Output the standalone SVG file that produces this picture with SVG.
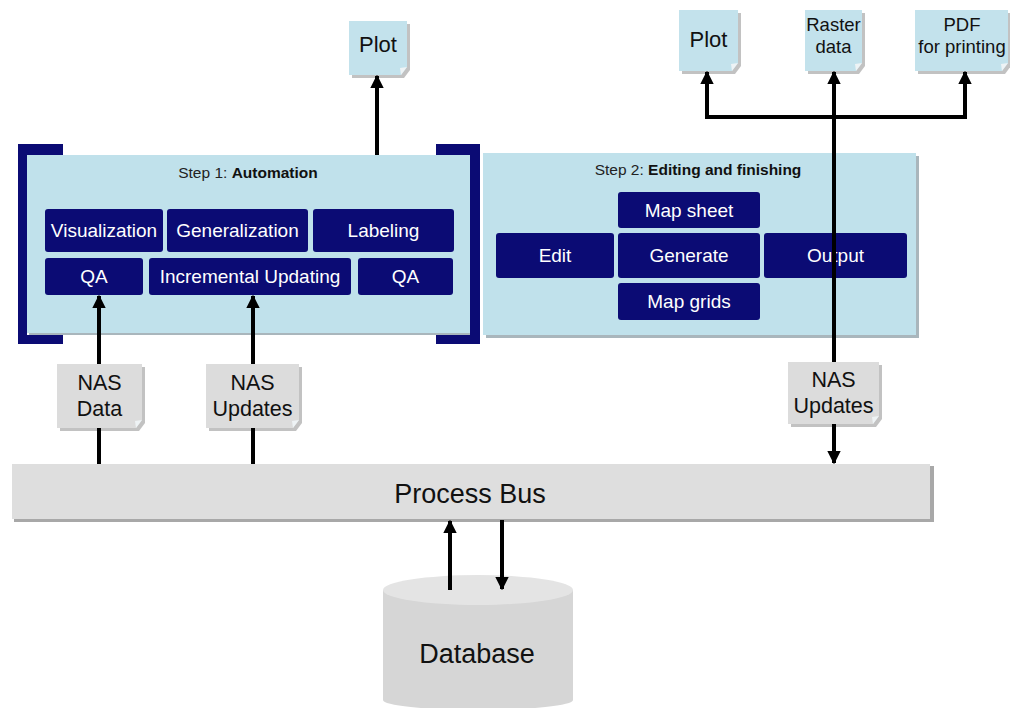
<svg xmlns="http://www.w3.org/2000/svg" width="1010" height="708" viewBox="0 0 1010 708">
  <defs>
    <style>
      .txt { font-family: "Liberation Sans", Arial, sans-serif; }
      .step { fill: #c0e1eb; }
      .stepshadow { fill: #a9b6bc; }
      .navy { fill: #0b0b74; }
      .navytxt { fill: #ffffff; font-size: 19px; text-anchor: middle; }
      .bracket { fill: #0b0b74; }
      .noteblue { fill: #c3e2ec; }
      .notegray { fill: #dcdcdc; }
      .noteshadow { fill: #9a9a9a; opacity: 0.6; }
      .fold { fill: #eef3f5; }
      .notetxt { fill: #111111; text-anchor: middle; }
      .conn { stroke: #000000; stroke-width: 4; fill: none; }
    </style>
    <marker id="arrow" viewBox="0 0 10 10" refX="9" refY="5" markerWidth="3.4" markerHeight="3.6" orient="auto" markerUnits="strokeWidth">
      <path d="M0,0 L10,5 L0,10 Z" fill="#000000"/>
    </marker>
  </defs>

  <rect width="1010" height="708" fill="#ffffff"/>

  <!-- Step 1: automation panel with brackets -->
  <g id="step1">
    <rect x="29" y="157" width="443" height="178" class="stepshadow"/>
    <rect x="27" y="155" width="443" height="178" class="step"/>
    <path class="bracket" d="M18,144 H63 V155 H27 V335 H63 V344 H18 Z"/>
    <path class="bracket" d="M480,144 H436 V155 H470 V335 H436 V344 H480 Z"/>
    <text class="txt" x="248" y="178" font-size="15.5" text-anchor="middle" fill="#222">Step 1: <tspan font-weight="bold" fill="#111">Automation</tspan></text>
  </g>

  <g id="visualization">
    <rect class="navy" x="45" y="209" width="118" height="43" rx="3"/>
    <text class="txt navytxt" x="104" y="237">Visualization</text>
  </g>
  <g id="generalization">
    <rect class="navy" x="167" y="209" width="141" height="43" rx="3"/>
    <text class="txt navytxt" x="237.5" y="237">Generalization</text>
  </g>
  <g id="labeling">
    <rect class="navy" x="313" y="209" width="141" height="43" rx="3"/>
    <text class="txt navytxt" x="383.5" y="237">Labeling</text>
  </g>
  <g id="qa1">
    <rect class="navy" x="45" y="258" width="98" height="37" rx="3"/>
    <text class="txt navytxt" x="94" y="283">QA</text>
  </g>
  <g id="incremental-updating">
    <rect class="navy" x="149" y="258" width="202" height="37" rx="3"/>
    <text class="txt navytxt" x="250" y="283">Incremental Updating</text>
  </g>
  <g id="qa2">
    <rect class="navy" x="358" y="258" width="95" height="37" rx="3"/>
    <text class="txt navytxt" x="405.5" y="283">QA</text>
  </g>

  <!-- Step 2: editing and finishing panel -->
  <g id="step2">
    <rect x="486" y="156" width="433" height="182" class="stepshadow"/>
    <rect x="483" y="153" width="433" height="182" class="step"/>
    <text class="txt" x="698" y="175" font-size="15.5" text-anchor="middle" fill="#222">Step 2: <tspan font-weight="bold" fill="#111">Editing and finishing</tspan></text>
  </g>

  <g id="map-sheet">
    <rect class="navy" x="618" y="192" width="142" height="36" rx="3"/>
    <text class="txt navytxt" x="689" y="217">Map sheet</text>
  </g>
  <g id="edit">
    <rect class="navy" x="496" y="233" width="118" height="45" rx="3"/>
    <text class="txt navytxt" x="555" y="262">Edit</text>
  </g>
  <g id="generate">
    <rect class="navy" x="618" y="233" width="142" height="45" rx="3"/>
    <text class="txt navytxt" x="689" y="262">Generate</text>
  </g>
  <g id="output">
    <rect class="navy" x="764" y="233" width="143" height="45" rx="3"/>
    <text class="txt navytxt" x="835.5" y="262">Output</text>
  </g>
  <g id="map-grids">
    <rect class="navy" x="618" y="283" width="142" height="37" rx="3"/>
    <text class="txt navytxt" x="689" y="308">Map grids</text>
  </g>

  <!-- Output documents -->
  <g id="plot-left">
    <path class="noteshadow" d="M352,24 H410 V70 L404,78 H352 Z"/>
    <path class="noteblue" d="M349,21 H407 V67 L401,75 H349 Z"/>
    <path class="fold" d="M407,67 L401,75 L400,68 Z"/>
    <text class="txt notetxt" x="378" y="52" font-size="22">Plot</text>
  </g>
  <g id="plot-right">
    <path class="noteshadow" d="M682,13 H741 V66 L735,74 H682 Z"/>
    <path class="noteblue" d="M679,10 H738 V63 L732,71 H679 Z"/>
    <path class="fold" d="M738,63 L732,71 L731,64 Z"/>
    <text class="txt notetxt" x="708.5" y="47" font-size="22">Plot</text>
  </g>
  <g id="raster-data">
    <path class="noteshadow" d="M808,13 H865 V66 L859,74 H808 Z"/>
    <path class="noteblue" d="M805,10 H862 V63 L856,71 H805 Z"/>
    <path class="fold" d="M862,63 L856,71 L855,64 Z"/>
    <text class="txt notetxt" x="833.5" y="31" font-size="18.5">Raster</text>
    <text class="txt notetxt" x="833.5" y="53" font-size="18.5">data</text>
  </g>
  <g id="pdf-printing">
    <path class="noteshadow" d="M918,13 H1011 V66 L1005,74 H918 Z"/>
    <path class="noteblue" d="M915,10 H1008 V63 L1002,71 H915 Z"/>
    <path class="fold" d="M1008,63 L1002,71 L1001,64 Z"/>
    <text class="txt notetxt" x="962" y="31" font-size="18.5">PDF</text>
    <text class="txt notetxt" x="962" y="53" font-size="18.5">for printing</text>
  </g>

  <!-- NAS input documents -->
  <g id="nas-data">
    <path class="noteshadow" d="M60,367 H145 V423 L139,431 H60 Z"/>
    <path class="notegray" d="M57,364 H142 V420 L136,428 H57 Z"/>
    <path class="fold" d="M142,420 L136,428 L135,421 Z"/>
    <text class="txt notetxt" x="99.5" y="390" font-size="21.5">NAS</text>
    <text class="txt notetxt" x="99.5" y="416" font-size="21.5">Data</text>
  </g>
  <g id="nas-updates-left">
    <path class="noteshadow" d="M209,367 H302 V423 L296,431 H209 Z"/>
    <path class="notegray" d="M206,364 H299 V420 L293,428 H206 Z"/>
    <path class="fold" d="M299,420 L293,428 L292,421 Z"/>
    <text class="txt notetxt" x="252.5" y="390" font-size="21.5">NAS</text>
    <text class="txt notetxt" x="252.5" y="416" font-size="21.5">Updates</text>
  </g>
  <g id="nas-updates-right">
    <path class="noteshadow" d="M791,365 H882 V419 L876,427 H791 Z"/>
    <path class="notegray" d="M788,362 H879 V416 L873,424 H788 Z"/>
    <path class="fold" d="M879,416 L873,424 L872,417 Z"/>
    <text class="txt notetxt" x="833.5" y="387" font-size="21.5">NAS</text>
    <text class="txt notetxt" x="833.5" y="413" font-size="21.5">Updates</text>
  </g>

  <!-- Process bus -->
  <g id="process-bus">
    <rect x="14" y="466" width="920" height="56" fill="#a8a8a8"/>
    <rect x="12" y="464" width="918" height="55" fill="#dedede"/>
    <text class="txt" x="470" y="503" font-size="27" text-anchor="middle" fill="#111">Process Bus</text>
  </g>

  <!-- Database cylinder -->
  <g id="database">
    <path d="M383,590 V700 A95,10 0 0 0 573,700 V590 Z" fill="#d6d6d6"/>
    <ellipse cx="478" cy="590" rx="95" ry="15" fill="#e4e4e4"/>
    <text class="txt" x="477" y="663" font-size="27" text-anchor="middle" fill="#111">Database</text>
  </g>

  <!-- Connectors -->
  <g id="connectors">
    <line class="conn" x1="377" y1="155" x2="377" y2="76" marker-end="url(#arrow)"/>
    <line class="conn" x1="834" y1="362" x2="834" y2="117"/>
    <line class="conn" x1="834" y1="117" x2="834" y2="72" marker-end="url(#arrow)"/>
    <polyline class="conn" points="834,117 707,117 707,72" marker-end="url(#arrow)"/>
    <polyline class="conn" points="834,117 965,117 965,72" marker-end="url(#arrow)"/>
    <line class="conn" x1="99" y1="364" x2="99" y2="296" marker-end="url(#arrow)"/>
    <line class="conn" x1="253" y1="364" x2="253" y2="296" marker-end="url(#arrow)"/>
    <line class="conn" x1="99" y1="428" x2="99" y2="464"/>
    <line class="conn" x1="253" y1="428" x2="253" y2="464"/>
    <line class="conn" x1="834" y1="424" x2="834" y2="463" marker-end="url(#arrow)"/>
    <line class="conn" x1="450" y1="590" x2="450" y2="521" marker-end="url(#arrow)"/>
    <line class="conn" x1="502" y1="520" x2="502" y2="589" marker-end="url(#arrow)"/>
  </g>
</svg>
